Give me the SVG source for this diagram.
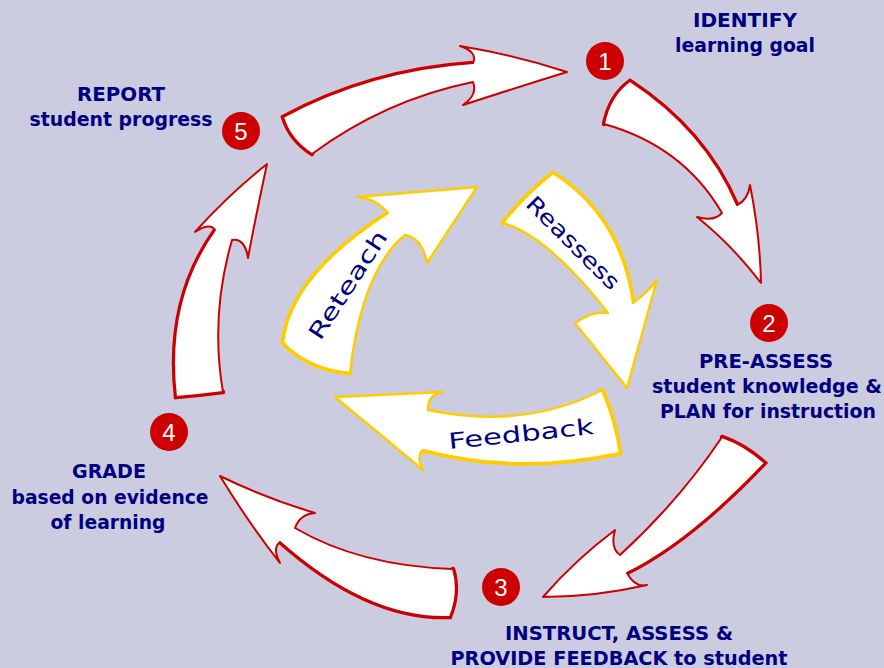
<svg xmlns="http://www.w3.org/2000/svg" width="884" height="668" viewBox="0 0 884 668">
<style>
.red{fill:#fff;stroke:#cc0000;stroke-width:2;stroke-linejoin:round}
.redEdge{fill:none;stroke:#cc0000;stroke-width:4.5;stroke-linecap:round}
.yel{fill:#fff;stroke:#ffcc00;stroke-width:2.5;stroke-linejoin:round}
.yelEdge{fill:none;stroke:#ffcc00;stroke-width:5;stroke-linecap:round}
.lbl{font-family:"DejaVu Sans Condensed","Liberation Sans",sans-serif;font-weight:bold;font-size:19px;fill:#000080;text-anchor:middle}
.num{font-family:"Liberation Sans",sans-serif;font-size:24px;fill:#fff;text-anchor:middle}
.ytxt{font-family:"DejaVu Sans",sans-serif;font-size:22px;fill:#000080;text-anchor:middle;dominant-baseline:central}
.badge{fill:#cc0000}
</style>
<rect width="884" height="668" fill="#cbcce0"/>
<g id="connectors">
  <g id="arrow-5-1">
    <path class="redEdge" d="M312,154 Q290,140 283,117 Q370,70 473,63"/>
    <path class="red" d="M283,117 Q370,70 473,63 Q478,52 460,46 Q515,55 567,72 Q515,88 463,105 Q478,95 473,82 Q385,100 312,154 Q290,140 283,117 Z"/>
  </g>
  <g id="arrow-1-2">
    <path class="redEdge" d="M604,124 Q610,95 630,81 Q705,130 737,205"/>
    <path class="red" d="M630,81 Q705,130 737,205 Q748,200 750,185 Q760,235 761,283 Q732,245 697,217 Q714,222 722,213 Q683,146 604,124 Q610,95 630,81 Z"/>
  </g>
  <g id="arrow-2-3">
    <path class="redEdge" d="M722,437 Q745,445 765,463 Q690,542 627,573"/>
    <path class="red" d="M765,463 Q690,542 627,573 Q635,588 647,585 Q595,597 543,597 Q575,560 615,530 Q610,548 620,555 Q680,500 722,437 Q745,445 765,463 Z"/>
  </g>
  <g id="arrow-3-4">
    <path class="redEdge" d="M453,569 Q460,592 450,617 Q368,620 280,542"/>
    <path class="red" d="M453,569 Q360,566 295,528 Q300,514 315,513 Q265,498 220,476 Q248,522 280,563 Q272,548 280,542 Q368,620 450,617 Q460,592 453,569 Z"/>
  </g>
  <g id="arrow-4-5">
    <path class="redEdge" d="M223,392 Q200,395 176,397 Q165,300 215,230"/>
    <path class="red" d="M176,397 Q165,300 215,230 Q210,222 195,232 Q228,195 267,164 Q255,220 248,258 Q245,238 232,240 Q210,316 223,392 Q200,395 176,397 Z"/>
  </g>
  <g id="arrow-reteach">
    <path class="yelEdge" d="M350,373 Q310,370 283,343 Q290,276 388,213"/>
    <path class="yel" d="M283,343 Q290,276 388,213 Q375,198 357,197 L477,187 L427,263 Q422,238 405,235 Q362,270 350,373 Q310,370 283,343 Z"/>
  </g>
  <g id="arrow-reassess">
    <path class="yelEdge" d="M503,223 Q525,195 553,173 Q621,216 633,303"/>
    <path class="yel" d="M553,173 Q621,216 633,303 Q648,292 657,280 L627,388 L575,323 Q594,310 608,313 Q548,236 503,223 Q525,195 553,173 Z"/>
  </g>
  <g id="arrow-feedback">
    <path class="yelEdge" d="M602,390 Q615,420 620,453 Q518,475 423,450"/>
    <path class="yel" d="M602,390 Q525,430 428,410 Q428,394 443,392 L335,397 L423,470 Q416,456 423,450 Q518,475 620,453 Q615,420 602,390 Z"/>
  </g>
</g>
<text class="ytxt" transform="translate(348,285) rotate(-57)" textLength="125" lengthAdjust="spacingAndGlyphs">Reteach</text>
<text class="ytxt" transform="translate(573,243) rotate(45)" textLength="122" lengthAdjust="spacingAndGlyphs">Reassess</text>
<text class="ytxt" transform="translate(521,434) rotate(-6)" textLength="146" lengthAdjust="spacingAndGlyphs">Feedback</text>
<g id="node-1">
  <circle class="badge" cx="605" cy="61" r="19"/>
  <text class="num" x="605" y="70">1</text>
  <text class="lbl" x="745" y="27" textLength="104" lengthAdjust="spacingAndGlyphs">IDENTIFY</text>
  <text class="lbl" x="745" y="52" textLength="140" lengthAdjust="spacingAndGlyphs">learning goal</text>
</g>
<g id="node-2">
  <circle class="badge" cx="769" cy="323" r="19"/>
  <text class="num" x="769" y="332">2</text>
  <text class="lbl" x="766" y="368" textLength="134" lengthAdjust="spacingAndGlyphs">PRE-ASSESS</text>
  <text class="lbl" x="767" y="393" textLength="230" lengthAdjust="spacingAndGlyphs">student knowledge &amp;</text>
  <text class="lbl" x="768" y="418" textLength="216" lengthAdjust="spacingAndGlyphs">PLAN for instruction</text>
</g>
<g id="node-3">
  <circle class="badge" cx="501" cy="587" r="19"/>
  <text class="num" x="501" y="596">3</text>
  <text class="lbl" x="619" y="640" textLength="228" lengthAdjust="spacingAndGlyphs">INSTRUCT, ASSESS &amp;</text>
  <text class="lbl" x="619" y="665" textLength="337" lengthAdjust="spacingAndGlyphs">PROVIDE FEEDBACK to student</text>
</g>
<g id="node-4">
  <circle class="badge" cx="169" cy="432" r="19"/>
  <text class="num" x="169" y="441">4</text>
  <text class="lbl" x="109" y="478" textLength="74" lengthAdjust="spacingAndGlyphs">GRADE</text>
  <text class="lbl" x="110" y="504" textLength="197" lengthAdjust="spacingAndGlyphs">based on evidence</text>
  <text class="lbl" x="108" y="529" textLength="115" lengthAdjust="spacingAndGlyphs">of learning</text>
</g>
<g id="node-5">
  <circle class="badge" cx="241" cy="131" r="19"/>
  <text class="num" x="241" y="140">5</text>
  <text class="lbl" x="121" y="101" textLength="88" lengthAdjust="spacingAndGlyphs">REPORT</text>
  <text class="lbl" x="121" y="126" textLength="183" lengthAdjust="spacingAndGlyphs">student progress</text>
</g>
</svg>
